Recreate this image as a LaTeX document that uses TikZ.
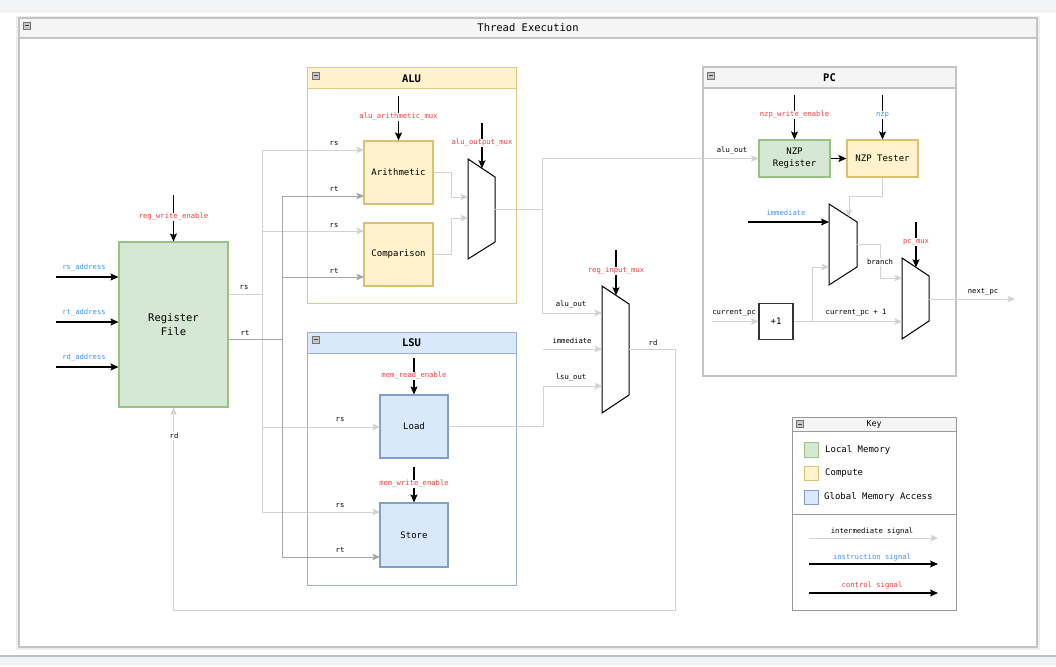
\documentclass[tikz,border=0pt]{standalone}
\usepackage{fontspec}
\setmainfont{DejaVu Sans Mono}
\usetikzlibrary{arrows.meta}

\definecolor{memfill}{HTML}{D5E8D4}
\definecolor{memline}{HTML}{82B366}
\definecolor{alufill}{HTML}{FFF2CC}
\definecolor{aluline}{HTML}{D6B656}
\definecolor{lsufill}{HTML}{DAE8FC}
\definecolor{lsuline}{HTML}{6C8EBF}
\definecolor{ctrlred}{HTML}{FF3B3B}
\definecolor{instblue}{HTML}{3D97FF}
\definecolor{wirelight}{HTML}{D2D2D2}
\definecolor{wiredark}{HTML}{A6A6A6}
\definecolor{framegray}{HTML}{C4C4C4}
\definecolor{barfill}{HTML}{F5F5F5}
\definecolor{pagegray}{HTML}{F2F3F5}

\begin{document}
\begin{tikzpicture}[x=1pt,y=1pt,yscale=-1,
  wire/.style={draw=wirelight, line width=1pt},
  wiredk/.style={draw=wiredark, line width=1pt},
  sig/.style={-{Stealth[length=7.5pt,width=6.5pt,inset=1.5pt]}},
  ctrl/.style={draw=black, line width=1.1pt, -{Stealth[length=8pt,width=7pt,inset=1.5pt]}},
  lbl/.style={font=\fontsize{7.2}{8}\selectfont, inner sep=0.8pt},
  redlbl/.style={lbl, text=ctrlred, fill=white},
  bluelbl/.style={lbl, text=instblue},
  unit/.style={draw, line width=1.1pt, align=center, font=\fontsize{9}{11}\selectfont, inner sep=1pt},
  mem/.style={unit, fill=memfill, draw=memline!80},
  comp/.style={unit, fill=alufill, draw=aluline!85},
  glob/.style={unit, fill=lsufill, draw=lsuline!85},
  head/.style={font=\fontsize{10.5}{12}\selectfont\bfseries, inner sep=0pt},
  mux/.style={draw=black, line width=1pt, fill=white},
  icon/.style={draw=black!55, fill=black!22, line width=0.6pt},
  frame/.style={draw=framegray, line width=1.3pt}
  ]
\useasboundingbox (0,0) rectangle (1056,666);

% page
\fill[white] (0,0) rectangle (1056,666);
\fill[pagegray] (0,0) rectangle (1056,13);
\fill[pagegray] (0,656) rectangle (1056,666);
\draw[black!25, line width=1.5pt] (0,656) -- (1056,656);
\fill[black!7] (16,16) rectangle (1040,650);

% Thread Execution frame
\draw[frame, fill=white] (19,18) rectangle (1037,647);
\draw[frame, fill=barfill] (19,18) rectangle (1037,38);
\node[font=\fontsize{10.5}{12}\selectfont, inner sep=0pt] (threadtitle) at (528,28) {Thread Execution};
\draw[icon] (23,22) rectangle (30,29);
\draw[black!75, line width=0.8pt] (24.5,25.5) -- (28.5,25.5);

% ALU container
\draw[draw=aluline!75, line width=1pt, fill=white] (307,68) rectangle (516,303);
\draw[draw=aluline!75, line width=1pt, fill=alufill] (307,68) rectangle (516,89);
\node[head] (alutitle) at (411.5,79) {ALU};
\draw[icon] (312,72) rectangle (319,79);
\draw[black!75, line width=0.8pt] (313.5,75.5) -- (317.5,75.5);

% LSU container
\draw[draw=lsuline!70, line width=1pt, fill=white] (307,332) rectangle (516,585);
\draw[draw=lsuline!70, line width=1pt, fill=lsufill] (307,332) rectangle (516,353);
\node[head] (lsutitle) at (411.5,342.5) {LSU};
\draw[icon] (312,336) rectangle (319,343);
\draw[black!75, line width=0.8pt] (313.5,339.5) -- (317.5,339.5);

% PC container
\draw[frame, fill=white] (703,67) rectangle (956,376);
\draw[frame, fill=barfill] (703,67) rectangle (956,88);
\node[head] (pctitle) at (829.5,78) {PC};
\draw[icon] (707,72) rectangle (714,79);
\draw[black!75, line width=0.8pt] (708.5,75.5) -- (712.5,75.5);

% Key container
\draw[draw=black!40, line width=1pt, fill=white] (792,417) rectangle (956,610);
\draw[draw=black!40, line width=1pt, fill=barfill] (792,417) rectangle (956,431);
\draw[draw=black!40, line width=1pt] (792,514) -- (956,514);
\node[font=\fontsize{8.3}{10}\selectfont, inner sep=0pt] (keytitle) at (874,424) {Key};
\draw[icon] (796,420.5) rectangle (803,427.5);
\draw[black!75, line width=0.8pt] (797.5,424) -- (801.5,424);

% Units
\node[mem, minimum width=109, minimum height=165, font=\fontsize{10.5}{14}\selectfont] (regfile) at (173.5,324.5) {Register\\File};
\node[comp, minimum width=69, minimum height=63] (arith) at (398.5,172.5) {Arithmetic};
\node[comp, minimum width=69, minimum height=63] (cmp) at (398.5,254.5) {Comparison};
\node[glob, minimum width=68, minimum height=63] (load) at (414,426.5) {Load};
\node[glob, minimum width=68, minimum height=64] (store) at (414,535) {Store};
\node[mem, minimum width=71, minimum height=37, font=\fontsize{9}{12}\selectfont] (nzpreg) at (794.5,158.5) {NZP\\Register};
\node[comp, minimum width=71, minimum height=37] (tester) at (882.5,158.5) {NZP Tester};
\node[unit, draw=black!80, minimum width=34, minimum height=36] (plusone) at (776,321.5) {+1};

% Muxes
\draw[mux] (468,159) -- (495,177) -- (495,242) -- (468,259) -- cycle;
\coordinate (am-in1) at (468,197);
\coordinate (am-in2) at (468,218);
\coordinate (am-out) at (495,209);
\coordinate (am-sel) at (482,168.3);
\draw[mux] (602,286) -- (629,304) -- (629,395) -- (602,413) -- cycle;
\coordinate (rim-in1) at (602,313);
\coordinate (rim-in2) at (602,349);
\coordinate (rim-in3) at (602,386);
\coordinate (rim-out) at (629,349);
\coordinate (rim-sel) at (616,295.3);
\draw[mux] (829,204) -- (857,222) -- (857,267) -- (829,285) -- cycle;
\coordinate (m1-in1) at (829,222);
\coordinate (m1-in2) at (829,267);
\coordinate (m1-out) at (857,244);
\coordinate (m1-sel) at (849,216.9);
\draw[mux] (902,258) -- (929,276) -- (929,321) -- (902,339) -- cycle;
\coordinate (pm-in1) at (902,278);
\coordinate (pm-in2) at (902,321.5);
\coordinate (pm-out) at (929,299);
\coordinate (pm-sel) at (916,267.3);

% Register file inputs
\coordinate (rsaddr) at (56,277);
\coordinate (rtaddr) at (56,322);
\coordinate (rdaddr) at (56,367);
\draw[ctrl] (rsaddr) -- (regfile.west |- rsaddr);
\draw[ctrl] (rtaddr) -- (regfile.west |- rtaddr);
\draw[ctrl] (rdaddr) -- (regfile.west |- rdaddr);
\node[bluelbl] (rsaddrlbl) at (84,268) {rs\_address};
\node[bluelbl] (rtaddrlbl) at (84,313) {rt\_address};
\node[bluelbl] (rdaddrlbl) at (84,358) {rd\_address};
\coordinate (rwetop) at (173.5,195);
\draw[ctrl] (rwetop) -- (regfile.north);
\node[redlbl] (rwelbl) at (173.5,217) {reg\_write\_enable};

% rs / rt buses
\coordinate (rsbus) at (262,294);
\coordinate (rtbus) at (282,339);
\coordinate (arith-rs) at (364,150);
\coordinate (arith-rt) at (364,196);
\coordinate (cmp-rs) at (364,231);
\coordinate (cmp-rt) at (364,277);
\coordinate (load-rs) at (380,427);
\coordinate (store-rs) at (380,512);
\coordinate (store-rt) at (380,557);
\draw[wire] (regfile.east |- rsbus) -- (rsbus);
\draw[wire, sig] (rsbus) |- (arith-rs);
\draw[wire, sig] (rsbus) |- (cmp-rs);
\draw[wire, sig] (rsbus) |- (load-rs);
\draw[wire, sig] (rsbus) |- (store-rs);
\draw[wiredk] (regfile.east |- rtbus) -- (rtbus);
\draw[wiredk, sig] (rtbus) |- (arith-rt);
\draw[wiredk, sig] (rtbus) |- (cmp-rt);
\draw[wiredk, sig] (rtbus) |- (store-rt);
\node[lbl] (rsout) at (244,288) {rs};
\node[lbl] (rtout) at (245,333) {rt};
\node[lbl] (arsl) at (334,144) {rs};
\node[lbl] (artl) at (334,189) {rt};
\node[lbl] (crsl) at (334,226) {rs};
\node[lbl] (crtl) at (334,271) {rt};
\node[lbl] (lrsl) at (340,420) {rs};
\node[lbl] (srsl) at (340,506) {rs};
\node[lbl] (srtl) at (340,550) {rt};

% ALU internals
\coordinate (aj1) at (451,197);
\coordinate (aj2) at (451,218);
\draw[wire, sig] (arith.east) -| (aj1) -- (am-in1);
\draw[wire, sig] (cmp.east) -| (aj2) -- (am-in2);
\coordinate (aamtop) at (398.5,96);
\draw[ctrl] (aamtop) -- (arith.north);
\node[redlbl] (aamlbl) at (398.5,117) {alu\_arithmetic\_mux};
\coordinate (aomtop) at (482,123);
\draw[ctrl] (aomtop) -- (am-sel);
\node[redlbl] (aomlbl) at (482,143) {alu\_output\_mux};

% LSU internals
\coordinate (mretop) at (414,358);
\draw[ctrl] (mretop) -- (load.north);
\node[redlbl] (mrelbl) at (414,376) {mem\_read\_enable};
\coordinate (mwetop) at (414,467);
\draw[ctrl] (mwetop) -- (store.north);
\node[redlbl] (mwelbl) at (414,484) {mem\_write\_enable};

% ALU output, register input mux
\coordinate (alu-split) at (542,209);
\draw[wire] (am-out) -- (alu-split);
\draw[wire, sig] (alu-split) |- (nzpreg.west);
\draw[wire, sig] (alu-split) |- (rim-in1);
\coordinate (imm-start) at (543,349);
\draw[wire, sig] (imm-start) -- (rim-in2);
\coordinate (lsu-jog) at (543,386);
\draw[wire, sig] (load.east) -| (lsu-jog) -- (rim-in3);
\node[lbl] (aluoutl) at (571,305) {alu\_out};
\node[lbl] (imml) at (572,341) {immediate};
\node[lbl] (lsuoutl) at (571,378) {lsu\_out};
\coordinate (rimtop) at (616,250);
\draw[ctrl] (rimtop) -- (rim-sel);
\node[redlbl] (rimlbl) at (616,271) {reg\_input\_mux};

% rd feedback
\coordinate (rd-down) at (675,610);
\draw[wire, sig] (rim-out) -| (rd-down) -| (regfile.south);
\node[lbl] (rdl) at (653,343) {rd};
\node[lbl, fill=white] (rdin) at (174,436) {rd};

% PC internals
\node[lbl] (pcaluout) at (732,151) {alu\_out};
\coordinate (nwetop) at (794.5,95);
\draw[ctrl] (nwetop) -- (nzpreg.north);
\node[redlbl] (nwelbl) at (794.5,115) {nzp\_write\_enable};
\coordinate (nzptop) at (882.5,95);
\draw[ctrl] (nzptop) -- (tester.north);
\node[bluelbl, fill=white] (nzplbl) at (882.5,115) {nzp};
\draw[ctrl] (nzpreg) -- (tester);
\coordinate (tjog) at (849,196);
\draw[wire, sig] (tester.south) |- (tjog) -- (m1-sel);
\coordinate (immpc) at (748,222);
\draw[ctrl] (immpc) -- (m1-in1);
\node[bluelbl] (immpcl) at (786,213) {immediate};
\coordinate (cpcstart) at (712,321.5);
\draw[wire, sig] (cpcstart) -- (plusone.west);
\node[lbl] (cpcl) at (734,313) {current\_pc};
\coordinate (p1-split) at (812,321.5);
\draw[wire, sig] (plusone.east) -- (pm-in2);
\draw[wire, sig] (p1-split) |- (m1-in2);
\node[lbl] (cpc1l) at (856,313) {current\_pc + 1};
\coordinate (m1-jog) at (880,278);
\draw[wire, sig] (m1-out) -| (m1-jog) -- (pm-in1);
\node[lbl, fill=white] (branchl) at (880,262) {branch};
\coordinate (pmtop) at (916,222);
\draw[ctrl] (pmtop) -- (pm-sel);
\node[redlbl] (pmlbl) at (916,242) {pc\_mux};
\coordinate (nextpc) at (1015,299);
\draw[wire, sig] (pm-out) -- (nextpc);
\node[lbl] (nextpcl) at (983,292) {next\_pc};

% Key
\draw[draw=memline!80, fill=memfill, line width=1pt] (804,442) rectangle (818,457);
\draw[draw=aluline!85, fill=alufill, line width=1pt] (804,466) rectangle (818,480);
\draw[draw=lsuline!85, fill=lsufill, line width=1pt] (804,490) rectangle (818,504);
\node[font=\fontsize{9}{11}\selectfont, anchor=west, inner sep=0pt] (keymem) at (825,449.5) {Local Memory};
\node[font=\fontsize{9}{11}\selectfont, anchor=west, inner sep=0pt] (keycomp) at (825,473) {Compute};
\node[font=\fontsize{9}{11}\selectfont, anchor=west, inner sep=0pt] (keyglob) at (824,497) {Global Memory Access};
\coordinate (k1a) at (809,538);
\coordinate (k1b) at (938,538);
\coordinate (k2a) at (809,564);
\coordinate (k2b) at (938,564);
\coordinate (k3a) at (809,593);
\coordinate (k3b) at (938,593);
\draw[wire, sig] (k1a) -- (k1b);
\draw[ctrl] (k2a) -- (k2b);
\draw[ctrl] (k3a) -- (k3b);
\node[lbl] (keyinter) at (872,532) {intermediate signal};
\node[bluelbl] (keyinst) at (872,558) {instruction signal};
\node[lbl, text=ctrlred] (keyctrl) at (872,586) {control signal};
\end{tikzpicture}
\end{document}
